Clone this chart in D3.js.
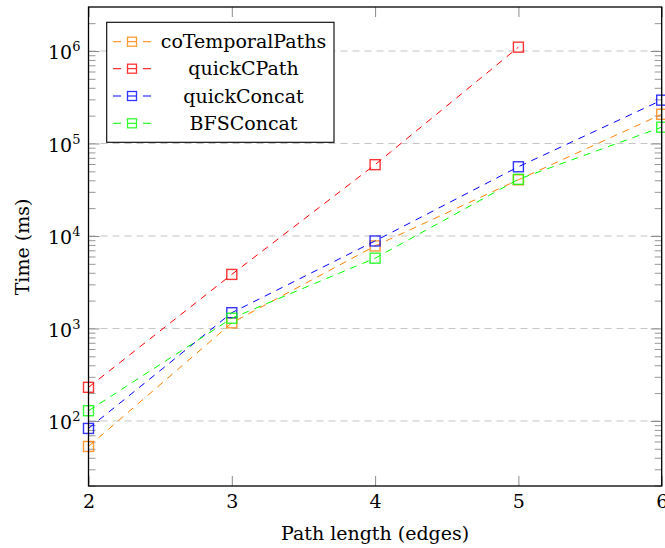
<!DOCTYPE html>
<html>
<head>
<meta charset="utf-8">
<script src="https://cdn.jsdelivr.net/npm/d3@7"></script>
<style>
  html, body { margin: 0; padding: 0; background: #fff; }
  svg { display: block; }
  text { font-family: "DejaVu Serif", "Liberation Serif", serif; fill: #000; }
</style>
</head>
<body>
<svg id="chart" width="665" height="548"></svg>
<script>
// ---- data ----
const pathLengths = [2, 3, 4, 5, 6];
const seriesNames = ["coTemporalPaths", "quickCPath", "quickConcat", "BFSConcat"];
const seriesColors = ["#ff8000", "#ff0000", "#0000ff", "#00ff00"];
const coTemporalPaths = [53, 1150, 7800, 40500, 207000];
const quickCPath = [231, 3840, 59000, 1100000];
const quickConcat = [83, 1480, 8830, 56000, 294000];
const BFSConcat = [129, 1290, 5750, 41000, 150000];
const yMajorTicks = [1e2, 1e3, 1e4, 1e5, 1e6];
const yExponents = [2, 3, 4, 5, 6];
const xTickLabels = ["2", "3", "4", "5", "6"];
const xTitle = "Path length (edges)";
const yTitle = "Time (ms)";

const seriesValues = [coTemporalPaths, quickCPath, quickConcat, BFSConcat];

// ---- layout ----
const L = 88.5, R = 661.7, T = 7, B = 486;
const svg = d3.select("#chart");

const x = d3.scaleLinear().domain([2, 6]).range([L, R]);
const y = d3.scaleLog().domain([19.8, 2.99e6]).range([B, T]);

// minor ticks
const minor = [];
for (let e = 1; e <= 6; e++) {
  for (let m = 2; m <= 9; m++) {
    const v = m * Math.pow(10, e);
    if (v >= 19.8 && v <= 2.99e6) minor.push(v);
  }
}

// grid lines
svg.append("g").selectAll("line").data(yMajorTicks).join("line")
  .attr("x1", L).attr("x2", R)
  .attr("y1", d => y(d)).attr("y2", d => y(d))
  .attr("stroke", "#c4c4c4").attr("stroke-width", 1)
  .attr("stroke-dasharray", "7,5");

function styleTicks(g, color, w) {
  g.select(".domain").remove();
  g.selectAll(".tick line").attr("stroke", color).attr("stroke-width", w);
}

// minor ticks left/right
svg.append("g").attr("transform", `translate(${L},0)`)
  .call(d3.axisLeft(y).tickValues(minor).tickSize(-7).tickFormat(""))
  .call(g => styleTicks(g, "#8a8a8a", 0.9));
svg.append("g").attr("transform", `translate(${R},0)`)
  .call(d3.axisRight(y).tickValues(minor).tickSize(-7).tickFormat(""))
  .call(g => styleTicks(g, "#8a8a8a", 0.9));

// major y ticks left with labels
const yAxisL = svg.append("g").attr("transform", `translate(${L},0)`)
  .call(d3.axisLeft(y).tickValues(yMajorTicks).tickSize(-11).tickPadding(8).tickFormat(""))
  .call(g => styleTicks(g, "#8a8a8a", 1));
yAxisL.selectAll(".tick text").each(function(d, i) {
  const t = d3.select(this);
  t.attr("font-size", 19).attr("dy", "0.4em").attr("text-anchor", "end");
  t.append("tspan").text("10");
  t.append("tspan").attr("font-size", 13).attr("dy", "-0.62em")
    .text(yExponents[yMajorTicks.indexOf(d)]);
});
svg.append("g").attr("transform", `translate(${R},0)`)
  .call(d3.axisRight(y).tickValues(yMajorTicks).tickSize(-11).tickFormat(""))
  .call(g => styleTicks(g, "#8a8a8a", 1));

// x ticks
svg.append("g").attr("transform", `translate(0,${B})`)
  .call(d3.axisBottom(x).tickValues(pathLengths).tickSize(-10).tickPadding(8.5)
    .tickFormat((d, i) => xTickLabels[i]))
  .call(g => styleTicks(g, "#8a8a8a", 1))
  .call(g => g.selectAll(".tick text").attr("font-size", 19).attr("font-family", "DejaVu Serif").attr("fill", "#000"));
svg.append("g").attr("transform", `translate(0,${T})`)
  .call(d3.axisTop(x).tickValues(pathLengths).tickSize(-10).tickFormat(""))
  .call(g => styleTicks(g, "#8a8a8a", 1));

// series
const line = d3.line().x((d, i) => x(pathLengths[i])).y(d => y(d));
const MS = 10;
seriesValues.forEach((vals, si) => {
  const g = svg.append("g");
  g.append("path").datum(vals)
    .attr("d", line)
    .attr("fill", "none")
    .attr("stroke", seriesColors[si])
    .attr("stroke-width", 1)
    .attr("stroke-dasharray", "7,6");
  g.selectAll("rect").data(vals).join("rect")
    .attr("x", (d, i) => x(pathLengths[i]) - MS / 2)
    .attr("y", d => y(d) - MS / 2)
    .attr("width", MS).attr("height", MS)
    .attr("fill", "none")
    .attr("stroke", seriesColors[si])
    .attr("stroke-opacity", 0.8)
    .attr("stroke-width", 1.4);
});

// frame
svg.append("rect")
  .attr("x", L).attr("y", T).attr("width", R - L).attr("height", B - T)
  .attr("fill", "none").attr("stroke", "#000").attr("stroke-width", 1.3);

// legend
const lg = svg.append("g");
const lx0 = 106.7, ly0 = 22.3, lw = 227.3, lh = 120;
lg.append("rect").attr("x", lx0).attr("y", ly0).attr("width", lw).attr("height", lh)
  .attr("fill", "#fff").attr("stroke", "#000").attr("stroke-width", 1.1);
const rowY = [41.7, 68.7, 96, 123.3];
seriesNames.forEach((name, i) => {
  const yy = rowY[i];
  lg.append("line").attr("x1", 113).attr("x2", 151).attr("y1", yy).attr("y2", yy)
    .attr("stroke", seriesColors[i]).attr("stroke-width", 1).attr("stroke-dasharray", "8,7");
  lg.append("rect").attr("x", 132 - 4.5).attr("y", yy - 4.5).attr("width", 9).attr("height", 9)
    .attr("fill", "none").attr("stroke", seriesColors[i]).attr("stroke-opacity", 0.8).attr("stroke-width", 1.3);
  lg.append("text").attr("x", 243.5).attr("y", yy + 6.5).attr("text-anchor", "middle")
    .attr("font-size", 19).text(name);
});

// axis titles
svg.append("text").attr("x", (L + R) / 2).attr("y", 540).attr("text-anchor", "middle")
  .attr("font-size", 19).text(xTitle);
svg.append("text").attr("transform", `translate(28.5,247) rotate(-90)`)
  .attr("text-anchor", "middle").attr("font-size", 19).text(yTitle);
</script>
</body>
</html>
